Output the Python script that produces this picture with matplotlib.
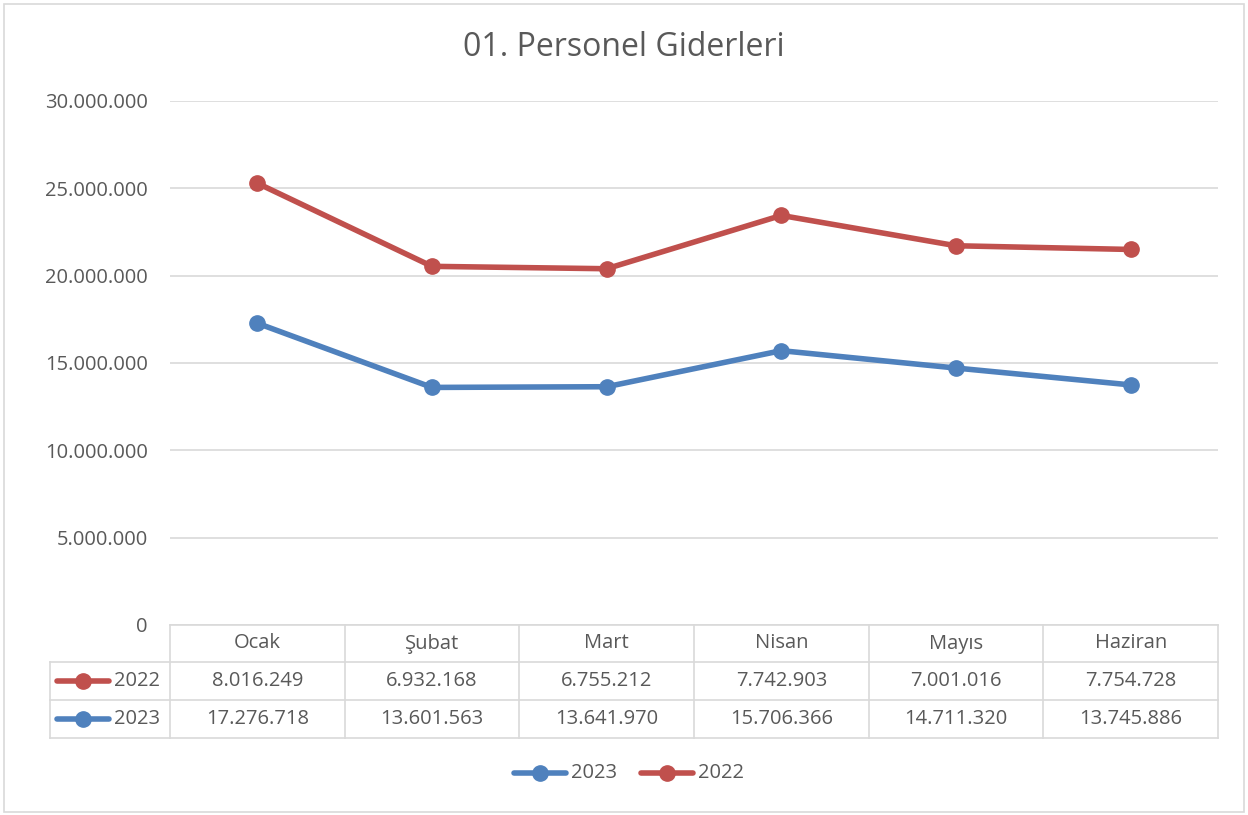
import matplotlib.pyplot as plt
from matplotlib.lines import Line2D
from matplotlib.patches import Rectangle

plt.rcParams['font.family'] = ['Open Sans', 'DejaVu Sans']

months = ['Ocak', 'Şubat', 'Mart', 'Nisan', 'Mayıs', 'Haziran']
v2023 = [17276718, 13601563, 13641970, 15706366, 14711320, 13745886]
v2022 = [8016249, 6932168, 6755212, 7742903, 7001016, 7754728]
yticks = [0, 5000000, 10000000, 15000000, 20000000, 25000000, 30000000]

blue = '#4F81BD'
red = '#C0504D'
txt = '#595959'
grid = '#D9D9D9'


def fmt(v):
    return f'{v:,}'.replace(',', '.')


W, H = 1248, 815
fig = plt.figure(figsize=(W / 100, H / 100), dpi=100)

def fx(px):
    return px / W

def fy(py):
    return 1 - py / H

x0, x1 = 170, 1218
ytop, ybot = 101, 625
ax = fig.add_axes([fx(x0), fy(ybot), fx(x1) - fx(x0), fy(ytop) - fy(ybot)])

# 2022 is stacked on top of 2023 (stacked line chart)
stacked = [a + b for a, b in zip(v2023, v2022)]
xs = range(len(months))
ax.plot(xs, v2023, color=blue, lw=4, marker='o', ms=11, solid_capstyle='round', zorder=3)
ax.plot(xs, stacked, color=red, lw=4, marker='o', ms=11, solid_capstyle='round', zorder=3)

ax.set_xlim(-0.5, len(months) - 0.5)
ax.set_ylim(0, 30000000)
ax.set_yticks(yticks)
ax.set_yticklabels([fmt(v) for v in yticks], color=txt, fontsize=14.5)
ax.tick_params(axis='y', length=0, pad=16)
ax.set_xticks([])
for s in ax.spines.values():
    s.set_visible(False)
ax.grid(axis='y', color=grid, lw=1.2)
ax.set_axisbelow(True)

fig.text(0.5, fy(47), '01. Personel Giderleri', ha='center', va='center',
         fontsize=23, color=txt)

# data table
rows = [625, 662, 700, 738]
lab_x0 = 50
col_w = (x1 - x0) / len(months)
lk = dict(color=grid, lw=1.2, transform=fig.transFigure)
for i, r in enumerate(rows):
    left = x0 if i == 0 else lab_x0
    fig.add_artist(Line2D([fx(left), fx(x1)], [fy(r), fy(r)], **lk))
for j in range(len(months) + 1):
    xx = x0 + j * col_w
    fig.add_artist(Line2D([fx(xx), fx(xx)], [fy(rows[0]), fy(rows[-1])], **lk))
fig.add_artist(Line2D([fx(lab_x0), fx(lab_x0)], [fy(rows[1]), fy(rows[-1])], **lk))

fs = 14.5
for j, m in enumerate(months):
    cx = fx(x0 + (j + 0.5) * col_w)
    fig.text(cx, fy((rows[0] + rows[1]) / 2), m, ha='center', va='center', fontsize=fs, color=txt)
    fig.text(cx, fy((rows[1] + rows[2]) / 2), fmt(v2022[j]), ha='center', va='center', fontsize=fs, color=txt)
    fig.text(cx, fy((rows[2] + rows[3]) / 2), fmt(v2023[j]), ha='center', va='center', fontsize=fs, color=txt)


def legend_key(xa, y, color, label):
    fig.add_artist(Line2D([fx(xa), fx(xa + 52)], [fy(y), fy(y)], color=color, lw=4,
                          solid_capstyle='round', transform=fig.transFigure))
    fig.add_artist(Line2D([fx(xa + 26)], [fy(y)], color=color, marker='o', ms=11,
                          transform=fig.transFigure))
    fig.text(fx(xa + 57), fy(y), label, ha='left', va='center', fontsize=fs, color=txt)


legend_key(57, (rows[1] + rows[2]) / 2, red, '2022')
legend_key(57, (rows[2] + rows[3]) / 2, blue, '2023')
legend_key(514, 773, blue, '2023')
legend_key(641, 773, red, '2022')

fig.add_artist(Rectangle((fx(4), fy(812)), fx(1240), fy(4) - fy(812), fill=False,
                         edgecolor=grid, lw=1.2, transform=fig.transFigure))

fig.savefig('out.png', dpi=100)
